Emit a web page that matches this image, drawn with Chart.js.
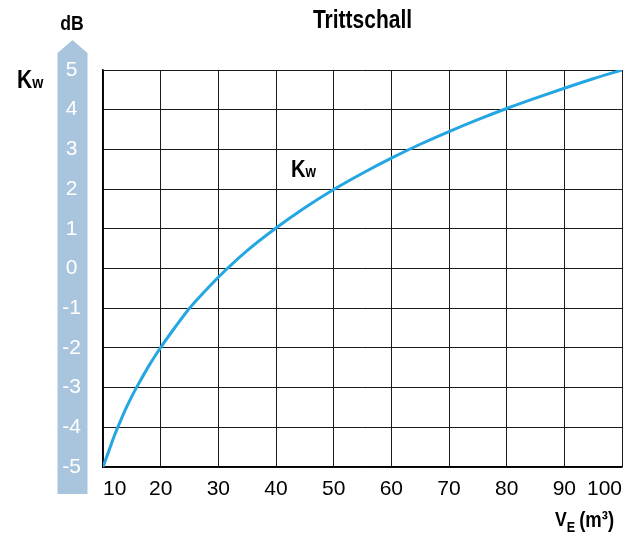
<!DOCTYPE html>
<html><head><meta charset="utf-8">
<script src="https://cdn.jsdelivr.net/npm/chart.js@4/dist/chart.umd.min.js"></script>
<style>html,body{margin:0;padding:0;background:#fff}#wrap{width:635px;height:536px;position:relative}</style>
</head><body><div id="wrap"><canvas id="c" width="635" height="536"></canvas></div>
<script>
const volumes = [10,11,12,13,14,15,16,18,20,22.5,25,27.5,30,35,40,45,50,55,60,65,70,75,80,85,90,95,100];
const kwValues = [-5.0,-4.6,-4.2,-3.85,-3.52,-3.22,-2.95,-2.44,-1.99,-1.48,-1.0,-0.6,-0.22,0.45,1.02,1.53,1.99,2.4,2.78,3.13,3.45,3.75,4.03,4.29,4.54,4.78,5.0];
const xTicks = [10,20,30,40,50,60,70,80,90,100];
const yTicks = [-5,-4,-3,-2,-1,0,1,2,3,4,5];
const titleText = 'Trittschall';
const yUnit = 'dB';
const seriesName = 'K';
const seriesSub = 'w';

const FONT = '"Liberation Sans",Arial,sans-serif';
const SQ = 0.84;

function nText(ctx, txt, x, y, font, align) {
  ctx.save();
  ctx.font = font;
  ctx.textAlign = align || 'left';
  ctx.translate(x, y);
  ctx.scale(SQ, 1);
  ctx.fillText(txt, 0, 0);
  const w = ctx.measureText(txt).width * SQ;
  ctx.restore();
  return w;
}

const decor = {
  id: 'decor',
  beforeDraw(chart) {
    const ctx = chart.ctx;
    ctx.save();
    ctx.fillStyle = '#a9c5dd';
    ctx.beginPath();
    ctx.moveTo(57.5, 494);
    ctx.lineTo(57.5, 53);
    ctx.lineTo(72.5, 40);
    ctx.lineTo(87.5, 53);
    ctx.lineTo(87.5, 494);
    ctx.closePath();
    ctx.fill();
    ctx.restore();
  },
  afterDraw(chart) {
    const ctx = chart.ctx;
    const xs = chart.scales.x, ys = chart.scales.y;
    ctx.save();
    ctx.fillStyle = '#000';
    ctx.textBaseline = 'alphabetic';
    nText(ctx, titleText, (chart.chartArea.left + chart.chartArea.right) / 2, 28, 'bold 25px ' + FONT, 'center');
    nText(ctx, yUnit, 72, 30, 'bold 21px ' + FONT, 'center');
    let w = nText(ctx, seriesName, 17, 88, 'bold 25px ' + FONT);
    nText(ctx, seriesSub, 17 + w, 88, 'bold 17px ' + FONT);
    const ax = xs.getPixelForValue(42.6), ay = ys.getPixelForValue(2.3);
    w = nText(ctx, seriesName, ax, ay, 'bold 24px ' + FONT);
    nText(ctx, seriesSub, ax + w, ay, 'bold 16px ' + FONT);
    let x0 = 555;
    x0 += nText(ctx, 'V', x0, 526, 'bold 21px ' + FONT);
    x0 += nText(ctx, 'E', x0, 532, 'bold 15px ' + FONT) + 4;
    nText(ctx, '(m³)', x0, 527, 'bold 22px ' + FONT);
    ctx.restore();
  }
};

new Chart(document.getElementById('c'), {
  type: 'line',
  data: {
    datasets: [{
      data: volumes.map((v, i) => ({x: v, y: kwValues[i]})),
      borderColor: '#24a6e2',
      borderWidth: 3,
      pointRadius: 0,
      cubicInterpolationMode: 'monotone',
      fill: false
    }]
  },
  options: {
    responsive: false,
    animation: false,
    events: [],
    layout: {padding: {left: 0, top: 70, right: 13, bottom: 0}},
    plugins: {legend: {display: false}, tooltip: {enabled: false}, title: {display: false}},
    scales: {
      x: {
        type: 'linear', min: 10, max: 100,
        afterBuildTicks: s => { s.ticks = xTicks.map(v => ({value: v})); },
        afterFit: s => { s.height = 69; },
        grid: {color: '#1a1a1a', lineWidth: 1, drawTicks: false},
        border: {color: '#000', width: 1.5},
        ticks: {align: 'inner', padding: 10, color: '#000', font: {family: FONT, size: 21}, maxRotation: 0, autoSkip: false}
      },
      y: {
        type: 'linear', min: -5, max: 5,
        afterBuildTicks: s => { s.ticks = yTicks.map(v => ({value: v})); },
        afterFit: s => { s.width = 103; },
        grid: {color: '#1a1a1a', lineWidth: 1, drawTicks: false},
        border: {color: '#000', width: 1.5},
        ticks: {crossAlign: 'center', padding: 22, color: '#fff', font: {family: FONT, size: 21}, autoSkip: false}
      }
    }
  },
  plugins: [decor]
});
</script>
</body></html>
